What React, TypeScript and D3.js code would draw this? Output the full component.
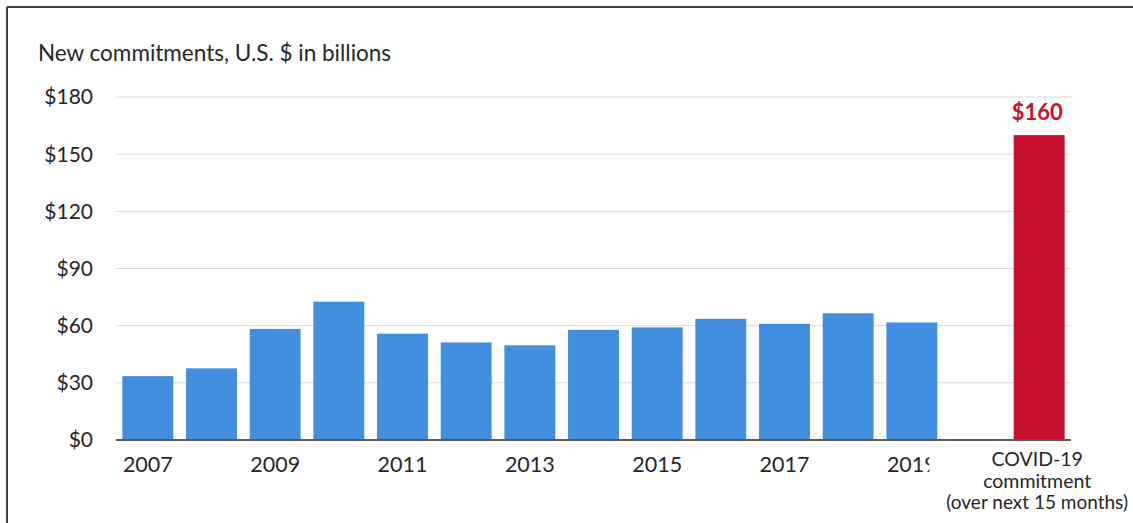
import * as d3 from "d3";
import React from "react";

const years = ["2007", "2008", "2009", "2010", "2011", "2012", "2013", "2014", "2015", "2016", "2017", "2018", "2019"];
const commitments = [33.5, 37.6, 58.3, 72.6, 55.8, 51.2, 49.7, 57.8, 59.1, 63.6, 61.0, 66.5, 61.7];
const covidValue = 160;
const yTicks = [0, 30, 60, 90, 120, 150, 180];
const covidLabel = ["COVID-19", "commitment", "(over next 15 months)"];

const WIDTH = 1133;
const HEIGHT = 523;
const margin = { top: 97, right: 62, bottom: 83, left: 116 };

const FONT = "Lato, 'Open Sans', sans-serif";
const BLUE = "#418fde";
const RED = "#c8102e";

export default function App() {
  const innerW = WIDTH - margin.left - margin.right;
  const innerH = HEIGHT - margin.top - margin.bottom;

  const cats = [...years, "gap", "covid"];
  const x = d3.scaleBand<string>().domain(cats).range([0, innerW]).paddingInner(0.2).paddingOuter(0.1);
  const y = d3.scaleLinear().domain([0, 180]).range([innerH, 0]);

  const data = years.map((yr, i) => ({ yr, v: commitments[i] }));
  const covidX = (x("covid") ?? 0) + x.bandwidth() / 2 - 2;
  // the last year label is cut off just before the end of its bar, as in the source image
  const lastYear = years[years.length - 1];
  const clipW = (x(lastYear) ?? 0) + x.bandwidth() - 8;

  return (
    <svg
      width={WIDTH}
      height={HEIGHT}
      style={{ position: "absolute", left: 0, top: 0, background: "#fff" }}
      fontFamily={FONT}
    >
      <defs>
        <clipPath id="lblclip">
          <rect x={-margin.left} y={0} width={clipW + margin.left} height={HEIGHT} />
        </clipPath>
      </defs>
      {/* frame */}
      <line x1={7} x2={WIDTH} y1={7} y2={7} stroke="#404040" strokeWidth={2} />
      <line x1={7} x2={7} y1={7} y2={HEIGHT} stroke="#404040" strokeWidth={2} />

      <text x={38} y={61} fontSize={22.5} fill="#262626">
        New commitments, U.S. $ in billions
      </text>

      <g transform={`translate(${margin.left},${margin.top})`}>
        {yTicks.map((t) => (
          <g key={t}>
            {t > 0 && <line x1={0} x2={innerW} y1={y(t)} y2={y(t)} stroke="#d9d9d9" strokeWidth={1} />}
            <text x={-23} y={y(t)} dy="0.35em" textAnchor="end" fontSize={21} fill="#262626">
              ${t}
            </text>
          </g>
        ))}

        {data.map((d) => (
          <rect
            key={d.yr}
            x={x(d.yr)}
            y={y(d.v)}
            width={x.bandwidth()}
            height={innerH - y(d.v)}
            fill={BLUE}
          />
        ))}
        <rect
          x={x("covid")}
          y={y(covidValue)}
          width={x.bandwidth()}
          height={innerH - y(covidValue)}
          fill={RED}
        />
        <text x={covidX} y={y(covidValue) - 15} textAnchor="middle" fontSize={22} fontWeight="bold" fill={RED}>
          ${covidValue}
        </text>

        <line x1={0} x2={innerW} y1={innerH} y2={innerH} stroke="#595959" strokeWidth={2} />

        <g clipPath="url(#lblclip)">
          {years
            .filter((_, i) => i % 2 === 0)
            .map((yr) => (
              <text
                key={yr}
                x={(x(yr) ?? 0) + x.bandwidth() / 2}
                y={innerH + 32}
                textAnchor="middle"
                fontSize={21.5}
                fill="#262626"
              >
                {yr}
              </text>
            ))}
        </g>
        {covidLabel.map((l, i) => (
          <text
            key={l}
            x={covidX}
            y={innerH + 26 + i * 21.5}
            textAnchor="middle"
            fontSize={i === 2 ? 19 : 19.5}
            fill="#262626"
          >
            {l}
          </text>
        ))}
      </g>
    </svg>
  );
}
